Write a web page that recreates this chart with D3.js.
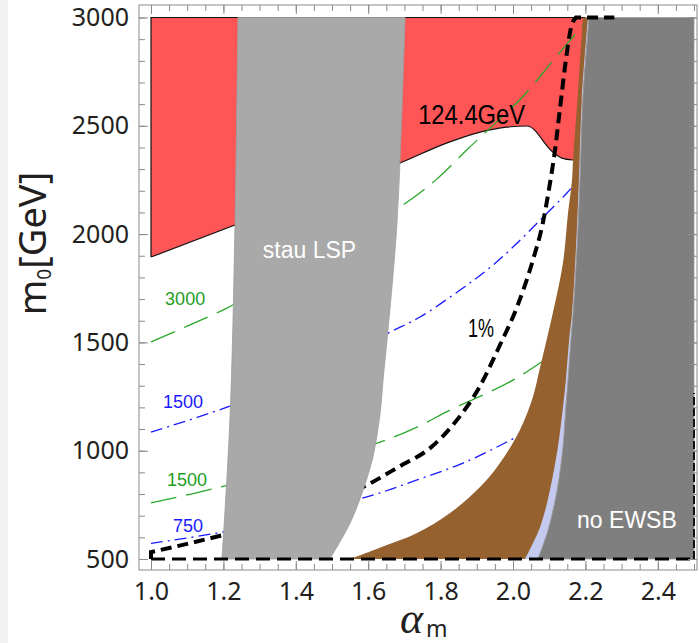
<!DOCTYPE html>
<html>
<head>
<meta charset="utf-8">
<script src="https://cdn.jsdelivr.net/npm/d3@7"></script>
<style>
  body { margin: 0; background: #fff; }
  svg { display: block; }
</style>
</head>
<body>
<svg id="chart" width="699" height="643"></svg>
<script>
// ---- axis ticks ----
const xMajor = [1.0, 1.2, 1.4, 1.6, 1.8, 2.0, 2.2, 2.4];
const yMajor = [500, 1000, 1500, 2000, 2500, 3000];

// ---- region boundaries, [alpha_m, m0 (GeV)] ----
// lower edge of the m_h < 124.4 GeV region (left to right)
const higgsEdge = [[1.0,1894],[1.232,2042],[1.688,2328],[1.818,2421],[1.909,2471],[1.983,2494],[2.039,2499],[2.110,2379],[2.135,2351],[2.166,2342],[2.2,2342]];
// stau LSP band: left edge (top to bottom) and right edge (top to bottom)
const stauLeft  = [[1.240,3000],[1.232,2042],[1.218,1142],[1.196,500]];
const stauRight = [[1.702,3000],[1.680,2065],[1.652,1511],[1.641,1326],[1.633,1174],[1.613,971],[1.586,819],[1.550,666],[1.494,500]];
// brown band: left edge (bottom to top)
const brownLeft = [[1.550,500],[1.632,552],[1.735,620],[1.826,712],[1.909,832],[1.964,943],[2.019,1096],[2.055,1248],[2.075,1386],[2.110,1636],[2.138,1867],[2.152,2097],[2.163,2250],[2.166,2342],[2.180,2665],[2.193,3000]];
// light strip left edge (bottom to top)
const stripLeft = [[2.033,500],[2.075,648],[2.102,819],[2.124,1017],[2.138,1202],[2.146,1326],[2.155,1511],[2.163,1636],[2.174,1940],[2.182,2250],[2.190,2619],[2.207,3000]];
// no-EWSB region left edge (bottom to top)
const ewsbLeft = [[2.069,500],[2.097,634],[2.122,819],[2.138,1017],[2.146,1202],[2.152,1326],[2.160,1511],[2.166,1636],[2.177,1940],[2.185,2250],[2.193,2619],[2.210,3000]];

// ---- contours ----
const green3000 = [[1.0,1502],[1.1,1575],[1.204,1654],[1.45,1880],[1.696,2134],[1.79,2255],[1.87,2385],[1.95,2510],[2.03,2640],[2.11,2800],[2.193,2965],[2.21,3000]];
const green1500 = [[1.0,759],[1.182,828],[1.4,925],[1.633,1040],[1.735,1109],[1.826,1188],[1.917,1257],[2.0,1326],[2.075,1405],[2.15,1490]];
const blue1500  = [[1.0,1086],[1.21,1201],[1.45,1365],[1.655,1543],[1.743,1617],[1.854,1742],[1.928,1834],[2.0,1940],[2.075,2065],[2.149,2190],[2.18,2250]];
const blue750   = [[1.0,572],[1.199,625],[1.4,700],[1.613,795],[1.735,865],[1.862,943],[1.983,1040],[2.06,1110]];
// 1% fine-tuning contour: curve rising from the left edge to the top edge
const tuneCurve = [[1.0,532],[1.199,611],[1.412,717],[1.586,832],[1.688,929],[1.771,1012],[1.834,1119],[1.909,1299],[1.964,1488],[2.011,1663],[2.055,1880],[2.083,2056],[2.099,2203],[2.116,2388],[2.130,2582],[2.146,2803],[2.160,2951],[2.174,3000]];
const tuneTop    = [[2.174,3000],[2.28,3000]];
const tuneLeft   = [[1.0,532],[1.0,500]];
const tuneBottom = [[1.0,500],[2.5,500]];
const tuneRight  = [[2.5,500],[2.5,1266]];

// ---- labels ----
const contourLabels = [
  {text: "3000", a: 1.039, m: 1673, color: "#1f9e1f"},
  {text: "1500", a: 1.033, m: 1197, color: "#1a1aff"},
  {text: "1500", a: 1.044, m: 837,  color: "#1f9e1f"},
  {text: "750",  a: 1.061, m: 625,  color: "#1a1aff"}
];

const svg = d3.select("#chart");
const x = d3.scaleLinear().domain([1.0, 2.5]).range([151, 694]);
const y = d3.scaleLinear().domain([500, 3000]).range([559, 17.5]);

const frame = {left: 139, right: 697, top: 5, bottom: 570};

function seg(pts, curve) {
  return d3.line().x(d => x(d[0])).y(d => y(d[1])).curve(curve || d3.curveLinear)(pts);
}
function joined(parts, close) {
  return parts.map((p, i) => i ? p.replace(/^M/, "L") : p).join("") + (close === false ? "" : "Z");
}
const smooth = d3.curveCatmullRom.alpha(0.5);

// page edge shading
svg.append("rect").attr("x", 0).attr("y", 0).attr("width", 8).attr("height", 643).attr("fill", "#f2f2f2");

// red region: m_h below 124.4 GeV
svg.append("path")
  .attr("d", joined([
    seg([[1.0, 1894], [1.0, 3000], [2.2, 3000]]),
    seg(higgsEdge.slice().reverse(), d3.curveMonotoneX)
  ]))
  .attr("fill", "#fe5656");

// outline of the red region (left, top and the 124.4 GeV contour)
svg.append("path")
  .attr("d", seg([[2.2, 3000], [1.0, 3000], [1.0, 1894]]))
  .attr("fill", "none").attr("stroke", "#111").attr("stroke-width", 1.2);
svg.append("path")
  .attr("d", seg(higgsEdge.slice(0, -1), d3.curveMonotoneX))
  .attr("fill", "none").attr("stroke", "#111").attr("stroke-width", 1.2);

// contour lines
const green = "#2aa82a", blue = "#1a1aff";
[[green3000, green], [green1500, green]].forEach(([pts, c]) => {
  svg.append("path").attr("d", seg(pts, smooth))
    .attr("fill", "none").attr("stroke", c).attr("stroke-width", 1.3)
    .attr("stroke-dasharray", "26,10");
});
[blue1500, blue750].forEach(pts => {
  svg.append("path").attr("d", seg(pts, smooth))
    .attr("fill", "none").attr("stroke", blue).attr("stroke-width", 1.3)
    .attr("stroke-dasharray", "12,5,2,5");
});

// brown band
svg.append("path")
  .attr("d", joined([
    seg(brownLeft, smooth),
    seg(ewsbLeft.slice().reverse(), smooth)
  ]))
  .attr("fill", "#94612f");

// light strip
svg.append("path")
  .attr("d", joined([
    seg(stripLeft, smooth),
    seg(ewsbLeft.slice().reverse(), smooth)
  ]))
  .attr("fill", "#c4c9f0");

// no EWSB region
svg.append("path")
  .attr("d", joined([
    seg(ewsbLeft, smooth),
    seg([[2.5, 3000], [2.5, 500]])
  ]))
  .attr("fill", "#7f7f7f").attr("stroke", "#9a9a9a").attr("stroke-width", 0.8);

// 1% contour curve, running on along the top edge
svg.append("path")
  .attr("d", joined([seg(tuneLeft.slice().reverse()), seg(tuneCurve, d3.curveMonotoneX), seg(tuneTop)], false))
  .attr("fill", "none").attr("stroke", "#000").attr("stroke-width", 4)
  .attr("stroke-dasharray", "11,6");

// stau LSP band
svg.append("path")
  .attr("d", joined([
    seg(stauLeft.slice().reverse(), smooth),
    seg(stauRight, smooth)
  ]))
  .attr("fill", "#a9a9a9").attr("stroke", "#9c9c9c").attr("stroke-width", 0.8);

// 1% contour along the lower and right edges
svg.append("path").attr("d", seg(tuneBottom))
  .attr("fill", "none").attr("stroke", "#000").attr("stroke-width", 3.2)
  .attr("stroke-dasharray", "14,7");
svg.append("path").attr("d", seg(tuneLeft))
  .attr("fill", "none").attr("stroke", "#000").attr("stroke-width", 4);
svg.append("path").attr("d", seg(tuneRight))
  .attr("fill", "none").attr("stroke", "#111").attr("stroke-width", 2)
  .attr("stroke-dasharray", "8,3");

// ---- frame and ticks ----
const axisColor = "#8a8a8a";
const tickFont = "'Noto Sans', 'Liberation Sans', sans-serif";
const xMinor = d3.range(1.0, 2.5001, 0.05).map(v => +v.toFixed(2));
const yMinor = d3.range(500, 3001, 100);

function styleAxis(g) {
  g.select(".domain").remove();
  g.selectAll(".tick line").attr("stroke", axisColor);
  g.selectAll("text").attr("fill", "#231f20").attr("font-family", tickFont).attr("font-size", 25);
}

// bottom
svg.append("g").attr("transform", `translate(0,${frame.bottom})`)
  .call(d3.axisBottom(x).tickValues(xMinor).tickSize(-6).tickFormat(""))
  .call(styleAxis);
svg.append("g").attr("transform", `translate(0,${frame.bottom})`)
  .call(d3.axisBottom(x).tickValues(xMajor).tickSize(-9).tickPadding(12).tickFormat(d3.format(".1f")))
  .call(styleAxis);
// top
svg.append("g").attr("transform", `translate(0,${frame.top})`)
  .call(d3.axisTop(x).tickValues(xMinor).tickSize(-6).tickFormat(""))
  .call(styleAxis);
svg.append("g").attr("transform", `translate(0,${frame.top})`)
  .call(d3.axisTop(x).tickValues(xMajor).tickSize(-9).tickFormat(""))
  .call(styleAxis);
// left
svg.append("g").attr("transform", `translate(${frame.left},0)`)
  .call(d3.axisLeft(y).tickValues(yMinor).tickSize(-6).tickFormat(""))
  .call(styleAxis);
svg.append("g").attr("transform", `translate(${frame.left},0)`)
  .call(d3.axisLeft(y).tickValues(yMajor).tickSize(-9).tickPadding(10).tickFormat(d3.format("d")))
  .call(styleAxis);
// right
svg.append("g").attr("transform", `translate(${frame.right},0)`)
  .call(d3.axisRight(y).tickValues(yMinor).tickSize(-6).tickFormat(""))
  .call(styleAxis);
svg.append("g").attr("transform", `translate(${frame.right},0)`)
  .call(d3.axisRight(y).tickValues(yMajor).tickSize(-9).tickFormat(""))
  .call(styleAxis);

svg.append("rect")
  .attr("x", frame.left).attr("y", frame.top)
  .attr("width", frame.right - frame.left).attr("height", frame.bottom - frame.top)
  .attr("fill", "none").attr("stroke", axisColor).attr("stroke-width", 1);

// ---- text inside the plot ----
const labelFont = "'Liberation Sans', Arial, sans-serif";
svg.append("text").attr("x", x(1.738)).attr("y", y(2508))
  .attr("font-family", labelFont).attr("font-size", 27)
  .attr("textLength", 107).attr("lengthAdjust", "spacingAndGlyphs")
  .attr("fill", "#000").text("124.4GeV");
svg.append("text").attr("x", x(1.876)).attr("y", y(1525))
  .attr("font-family", labelFont).attr("font-size", 26)
  .attr("textLength", 26).attr("lengthAdjust", "spacingAndGlyphs")
  .attr("fill", "#000").text("1%");
svg.append("text").attr("x", x(1.309)).attr("y", y(1890))
  .attr("font-family", labelFont).attr("font-size", 23)
  .attr("fill", "#fff").text("stau LSP");
svg.append("text").attr("x", x(2.177)).attr("y", y(643))
  .attr("font-family", labelFont).attr("font-size", 23)
  .attr("fill", "#fff").text("no EWSB");

svg.selectAll("text.clabel").data(contourLabels).join("text")
  .attr("class", "clabel")
  .attr("x", d => x(d.a)).attr("y", d => y(d.m))
  .attr("font-family", labelFont).attr("font-size", 18)
  .attr("fill", d => d.color).text(d => d.text);

// ---- axis titles ----
const xt = svg.append("text").attr("x", 400).attr("y", 633).attr("fill", "#231f20");
xt.append("tspan").attr("font-family", "'Liberation Serif', 'DejaVu Serif', serif")
  .attr("font-style", "italic").attr("font-size", 44).text("α");
xt.append("tspan").attr("font-family", tickFont).attr("font-size", 23).attr("dx", 3).attr("dy", 4).text("m");

const yt = svg.append("text")
  .attr("transform", "translate(46,243.5) rotate(-90)")
  .attr("text-anchor", "middle").attr("fill", "#231f20")
  .attr("font-family", tickFont).attr("font-size", 38);
yt.append("tspan").text("m");
yt.append("tspan").attr("font-size", 19).attr("dy", 5).text("0");
yt.append("tspan").attr("dy", -5).text("[GeV]");
</script>
</body>
</html>
